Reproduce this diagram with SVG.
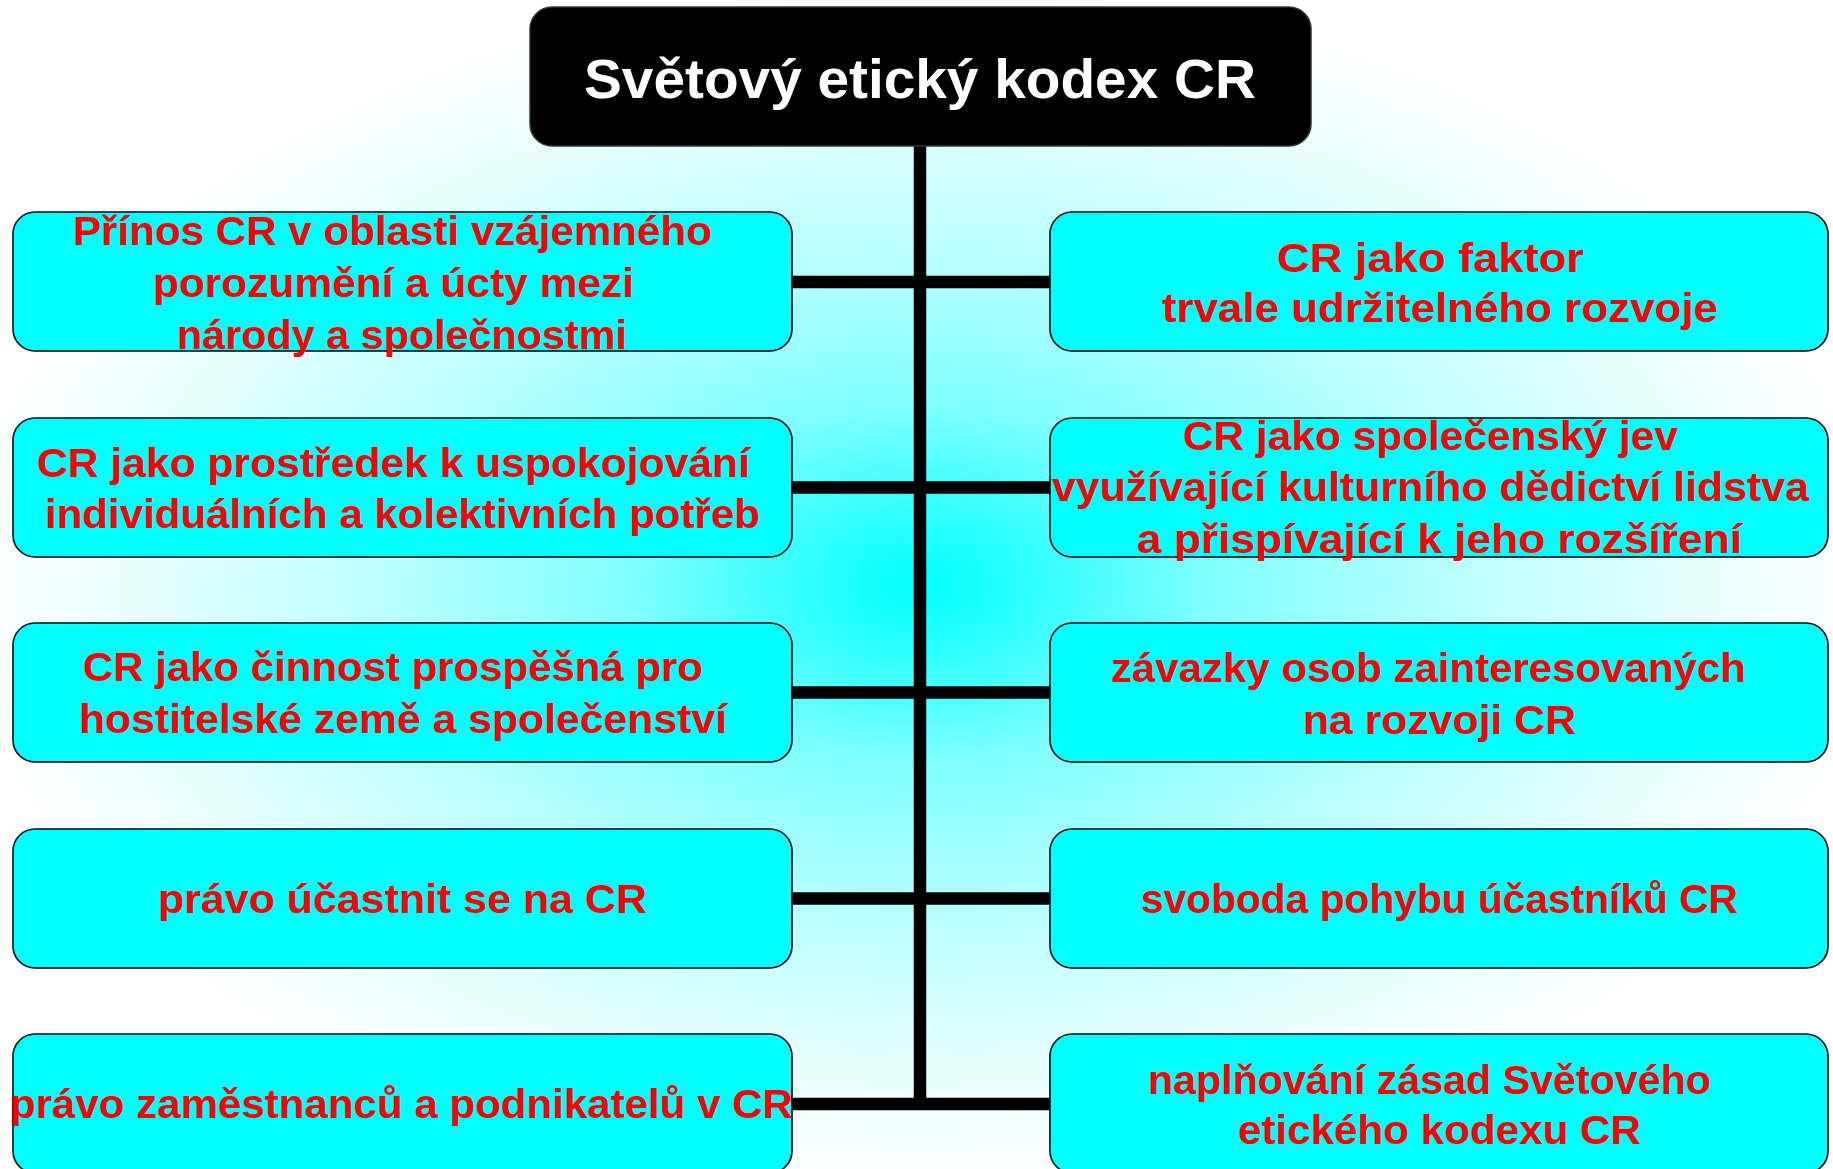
<svg xmlns="http://www.w3.org/2000/svg" width="1833" height="1169" viewBox="0 0 1833 1169">
<defs>
<radialGradient id="bg" gradientUnits="userSpaceOnUse" cx="920" cy="585" r="600" gradientTransform="translate(920 585) scale(1.6 1) translate(-920 -585)">
<stop offset="0" stop-color="#00FFFF"/>
<stop offset="0.12" stop-color="#30FFFF"/>
<stop offset="0.3" stop-color="#80FFFF"/>
<stop offset="0.55" stop-color="#B8FFFF"/>
<stop offset="0.8" stop-color="#E6FFFF"/>
<stop offset="1" stop-color="#FFFFFF"/>
</radialGradient>
<style>
.box{fill:#00FFFF;stroke:#000;stroke-width:1.6}
.t{font-family:"Liberation Sans",Arial,sans-serif;font-weight:bold;font-size:41px;fill:#FF0000}
.title{font-family:"Liberation Sans",Arial,sans-serif;font-weight:bold;font-size:56px;fill:#FFFFFF}
.con{stroke:#000;stroke-width:12.5;fill:none}
</style>
</defs>
<rect x="0" y="0" width="1833" height="1169" fill="url(#bg)"/>
<g id="connectors">
<line class="con" x1="920" y1="146" x2="920" y2="1110"/>
<line class="con" x1="792" y1="282" x2="1050" y2="282"/>
<line class="con" x1="792" y1="487.5" x2="1050" y2="487.5"/>
<line class="con" x1="792" y1="692.5" x2="1050" y2="692.5"/>
<line class="con" x1="792" y1="898.5" x2="1050" y2="898.5"/>
<line class="con" x1="792" y1="1104" x2="1050" y2="1104"/>
</g>
<g id="title">
<rect x="530" y="7" width="781" height="139" rx="22" fill="#000" stroke="#333" stroke-width="1.5"/>
<text class="title" x="584" y="98" textLength="672" lengthAdjust="spacingAndGlyphs">Světový etický kodex CR</text>
</g>
<g id="left1">
<rect class="box" x="13" y="212" width="779" height="139" rx="22"/>
<text class="t" x="73" y="245" textLength="639" lengthAdjust="spacingAndGlyphs">Přínos CR v oblasti vzájemného</text>
<text class="t" x="153" y="297" textLength="481" lengthAdjust="spacingAndGlyphs">porozumění a úcty mezi</text>
<text class="t" x="177" y="349" textLength="450" lengthAdjust="spacingAndGlyphs">národy a společnostmi</text>
</g>
<g id="left2">
<rect class="box" x="13" y="418" width="779" height="139" rx="22"/>
<text class="t" x="37" y="477" textLength="713" lengthAdjust="spacingAndGlyphs">CR jako prostředek k uspokojování</text>
<text class="t" x="45" y="528" textLength="715" lengthAdjust="spacingAndGlyphs">individuálních a kolektivních potřeb</text>
</g>
<g id="left3">
<rect class="box" x="13" y="623" width="779" height="139" rx="22"/>
<text class="t" x="83" y="681" textLength="620" lengthAdjust="spacingAndGlyphs">CR jako činnost prospěšná pro</text>
<text class="t" x="79" y="733" textLength="648" lengthAdjust="spacingAndGlyphs">hostitelské země a společenství</text>
</g>
<g id="left4">
<rect class="box" x="13" y="829" width="779" height="139" rx="22"/>
<text class="t" x="158" y="913" textLength="489" lengthAdjust="spacingAndGlyphs">právo účastnit se na CR</text>
</g>
<g id="left5">
<rect class="box" x="13" y="1034" width="779" height="139" rx="22"/>
<text class="t" x="10" y="1118" textLength="783" lengthAdjust="spacingAndGlyphs">právo zaměstnanců a podnikatelů v CR</text>
</g>
<g id="right1">
<rect class="box" x="1050" y="212" width="778" height="139" rx="22"/>
<text class="t" x="1277" y="272" textLength="307" lengthAdjust="spacingAndGlyphs">CR jako faktor</text>
<text class="t" x="1162" y="322" textLength="556" lengthAdjust="spacingAndGlyphs">trvale udržitelného rozvoje</text>
</g>
<g id="right2">
<rect class="box" x="1050" y="418" width="778" height="139" rx="22"/>
<text class="t" x="1183" y="450" textLength="495" lengthAdjust="spacingAndGlyphs">CR jako společenský jev</text>
<text class="t" x="1052" y="501" textLength="757" lengthAdjust="spacingAndGlyphs">využívající kulturního dědictví lidstva</text>
<text class="t" x="1137" y="553" textLength="605" lengthAdjust="spacingAndGlyphs">a přispívající k jeho rozšíření</text>
</g>
<g id="right3">
<rect class="box" x="1050" y="623" width="778" height="139" rx="22"/>
<text class="t" x="1111" y="682" textLength="635" lengthAdjust="spacingAndGlyphs">závazky osob zainteresovaných</text>
<text class="t" x="1303" y="734" textLength="273" lengthAdjust="spacingAndGlyphs">na rozvoji CR</text>
</g>
<g id="right4">
<rect class="box" x="1050" y="829" width="778" height="139" rx="22"/>
<text class="t" x="1141" y="913" textLength="597" lengthAdjust="spacingAndGlyphs">svoboda pohybu účastníků CR</text>
</g>
<g id="right5">
<rect class="box" x="1050" y="1034" width="778" height="139" rx="22"/>
<text class="t" x="1148" y="1094" textLength="563" lengthAdjust="spacingAndGlyphs">naplňování zásad Světového</text>
<text class="t" x="1238" y="1144" textLength="403" lengthAdjust="spacingAndGlyphs">etického kodexu CR</text>
</g>
</svg>
